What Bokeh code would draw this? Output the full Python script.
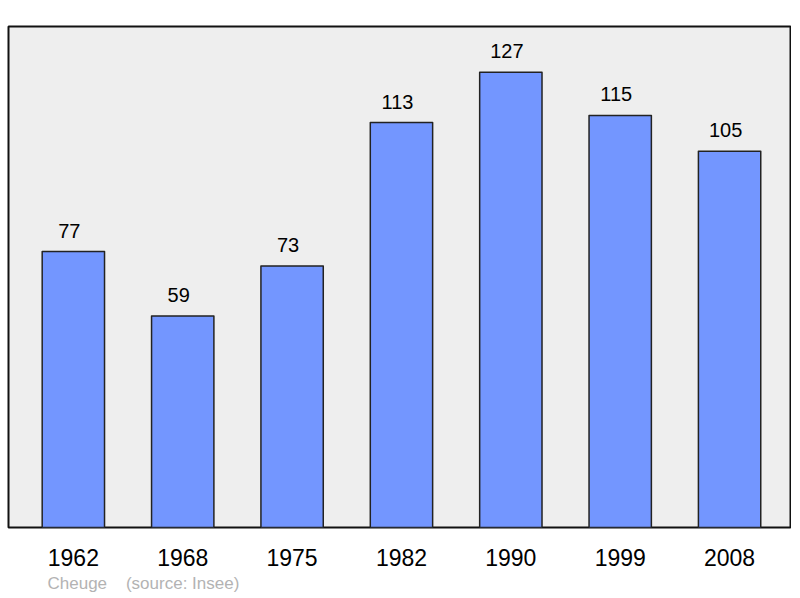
from bokeh.core.properties import value
from bokeh.embed import file_html
from bokeh.models import ColumnDataSource, FixedTicker, Range1d, Title
from bokeh.plotting import figure
from bokeh.resources import INLINE

years = ["1962", "1968", "1975", "1982", "1990", "1999", "2008"]
population = [77, 59, 73, 113, 127, 115, 105]
commune = "Cheuge"
source_note = "(source: Insee)"

xs = list(range(len(years)))
src = ColumnDataSource(dict(x=xs, top=population, label=[str(v) for v in population]))

p = figure(frame_width=782, frame_height=501, output_backend="svg", toolbar_location=None,
           x_range=Range1d(-0.593, 6.557), y_range=Range1d(0, 139.8),
           min_border_left=8, min_border_right=1, min_border_top=26, min_border_bottom=10)

p.vbar(x="x", top="top", width=0.57, source=src, fill_color="#7396ff",
       line_color="#222222", line_width=1.5, line_join="round")
p.text(x="x", y="top", text="label", source=src, text_align="center", text_baseline="alphabetic",
       x_offset=-4, y_offset=-21, text_font=value("Liberation Sans"), text_font_size="20px",
       text_color="black")

p.background_fill_color = "#eeeeee"
p.border_fill_color = "white"
p.outline_line_color = "#111111"
p.outline_line_width = 2
p.outline_line_alpha = 1
p.grid.visible = False

p.yaxis.visible = False
p.xaxis.ticker = FixedTicker(ticks=xs)
p.xaxis.major_label_overrides = {i: y for i, y in zip(xs, years)}
p.xaxis.axis_line_color = None
p.xaxis.major_tick_line_color = None
p.xaxis.minor_tick_line_color = None
p.xaxis.major_label_standoff = 15
p.xaxis.major_label_text_font = "Liberation Sans"
p.xaxis.major_label_text_font_size = "23px"
p.xaxis.major_label_text_color = "black"

p.add_layout(Title(text=commune + "\u00a0\u00a0\u00a0\u00a0" + source_note, align="left", offset=39,
                   text_font="Liberation Sans", text_font_size="17px", text_font_style="normal",
                   text_color="#b3b3b3", standoff=6), "below")

open("out.html", "w").write(file_html(p, INLINE))
